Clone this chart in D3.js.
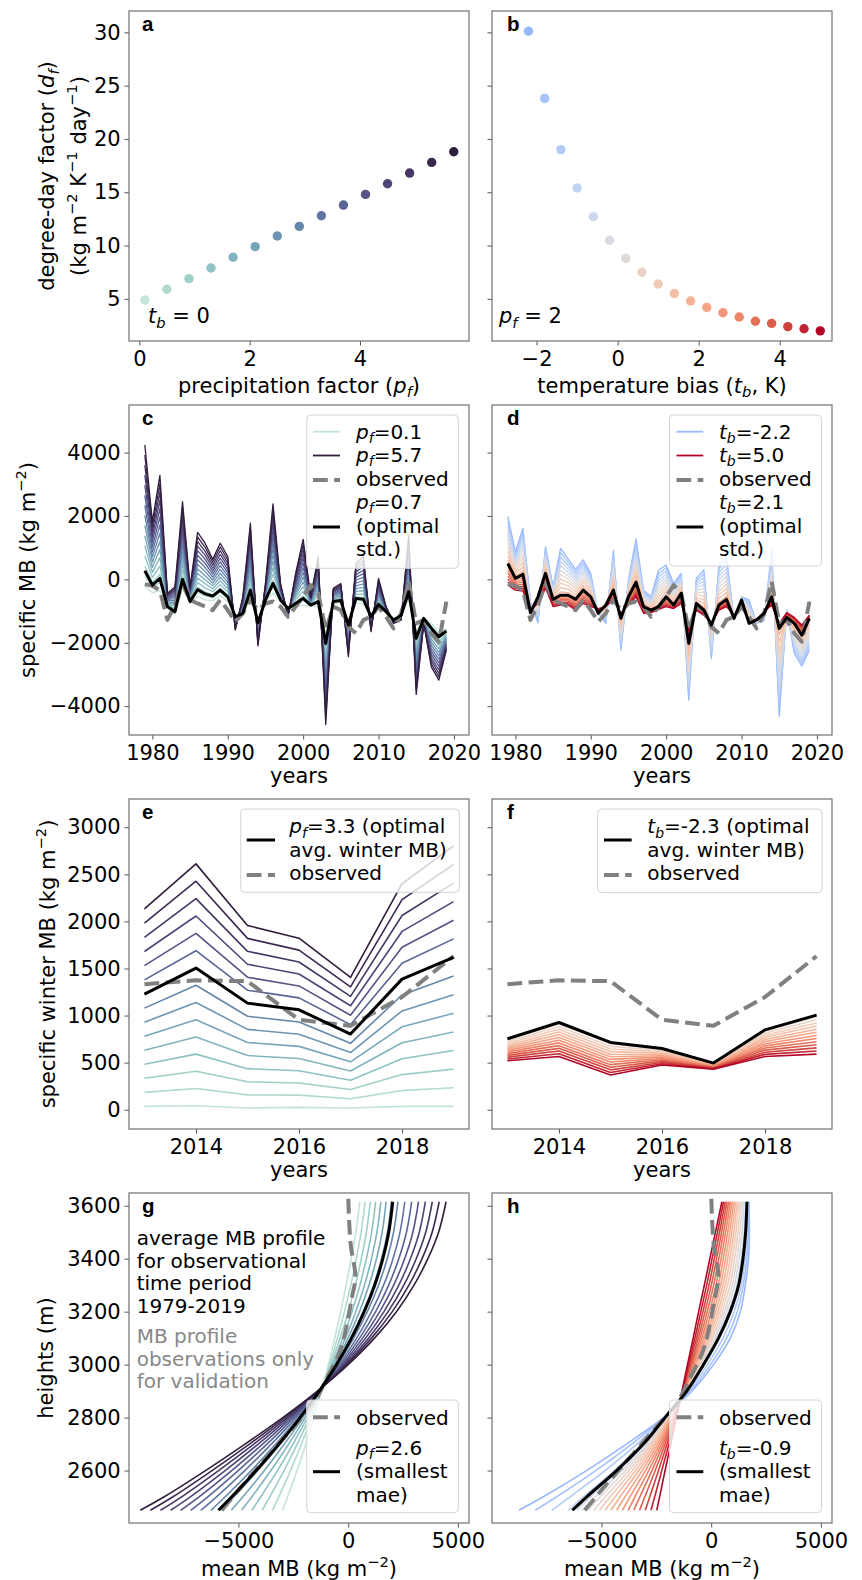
<!DOCTYPE html>
<html>
<head>
<meta charset="utf-8">
<script src="https://cdnjs.cloudflare.com/ajax/libs/d3/7.8.5/d3.min.js"></script>
<style>
  body { margin: 0; background: #fff; }
  svg text { font-family: "DejaVu Sans", sans-serif; white-space: pre; }
</style>
</head>
<body>
<svg id="fig" width="862" height="1580"></svg>
<script>
// ---------------- parameter grids ----------------
const pfValues = [0.1, 0.5, 0.9, 1.3, 1.7, 2.1, 2.5, 2.9, 3.3, 3.7, 4.1, 4.5, 4.9, 5.3, 5.7];
const ddfByPf  = [4.9, 5.9, 6.9, 7.9, 8.9, 9.9, 10.9, 11.8, 12.8, 13.8, 14.8, 15.8, 16.8, 17.8, 18.8];
const tbValues = [-2.2, -1.8, -1.4, -1.0, -0.6, -0.2, 0.2, 0.6, 1.0, 1.4, 1.8, 2.2, 2.6, 3.0, 3.4, 3.8, 4.2, 4.6, 5.0];
const ddfByTb  = [30.1, 23.8, 19.0, 15.4, 12.7, 10.5, 8.8, 7.5, 6.4, 5.5, 4.8, 4.2, 3.7, 3.3, 2.9, 2.7, 2.4, 2.2, 2.0];

// ---------------- annual specific MB 1979-2019 (kg m-2) ----------------
const years = [1979, 1980, 1981, 1982, 1983, 1984, 1985, 1986, 1987, 1988, 1989, 1990, 1991, 1992,
  1993, 1994, 1995, 1996, 1997, 1998, 1999, 2000, 2001, 2002, 2003, 2004, 2005, 2006, 2007, 2008,
  2009, 2010, 2011, 2012, 2013, 2014, 2015, 2016, 2017, 2018, 2019];
const mbObserved = [-150, -200, -350, -1280, -800, -130, -650, -760, -860, -970, -650, -970, -1340, -1070,
  -650, -970, -760, -700, -860, -1180, -860, -550, -180, -440, -1600, -860, -970, -1500, -1700, -1280,
  -1180, -860, -1180, -1550, -1070, -70, -1390, -1280, -1700, -1970, -700];
// runs with varying precipitation factor (t_b = 0)
const mbPfLow = [-200, -420, -360, -910, -1110, -290, -760, -540, -650, -670, -520, -700, -1130, -1130,
  -590, -1280, -710, -430, -710, -890, -870, -820, -840, -870, -1710, -750, -740, -1320, -730, -790,
  -1120, -890, -1040, -1270, -1110, -610, -1650, -1210, -1390, -1650, -1560];
const mbPfOpt = [270, -180, 30, -860, -1020, 0, -700, -320, -460, -530, -340, -550, -1180, -1070,
  -340, -1370, -650, -130, -650, -920, -760, -600, -810, -700, -2020, -700, -670, -1440, -600, -630,
  -1180, -790, -1020, -1280, -1130, -390, -1860, -1230, -1540, -1810, -1630];
const mbPfHigh = [4240, 1820, 3280, -440, -230, 2450, -230, 1480, 1140, 630, 1140, 720, -1600, -550,
  1770, -2100, -130, 2380, -130, -1180, 190, 1260, -550, 720, -4580, -280, -130, -2440, 500, 720,
  -1650, 30, -860, -1390, -1280, 1400, -3630, -1390, -2760, -3180, -2230];
// runs with varying temperature bias (p_f = 2)
const mbTbCold = [1980, 870, 1610, -700, -1370, 1030, -230, 980, 640, 315, 610, 190, -1070, -1390,
  905, -2230, -20, 1270, -340, -550, 295, 450, -130, 190, -3810, 30, 295, -2500, 450, 715,
  -1280, -550, -650, -1390, -1300, 925, -4320, -970, -2340, -2740, -2230];
const mbTbOpt = [500, 30, 160, -1050, -550, 190, -630, -500, -500, -630, -340, -550, -1070, -810,
  -340, -1230, -550, -90, -860, -970, -860, -550, -810, -440, -2020, -760, -970, -1440, -810, -630,
  -1230, -650, -1390, -1280, -1070, -550, -1550, -1200, -1390, -1760, -1230];
const mbTbWarm = [-180, -340, -370, -970, -760, -280, -860, -810, -810, -970, -760, -860, -920, -860,
  -650, -1070, -810, -550, -1070, -1050, -950, -860, -920, -760, -1600, -970, -1130, -1390, -970, -860,
  -1130, -860, -1280, -1280, -1020, -810, -1390, -1050, -1200, -1440, -1130];

// ---------------- winter MB 2013-2019 (kg m-2) ----------------
const winterYears = [2013, 2014, 2015, 2016, 2017, 2018, 2019];
const winterObserved = [1333, 1374, 1365, 955, 891, 1197, 1630];
const winterPfLow  = [35, 42, 18, 25, 18, 35, 35];
const winterPfOpt  = [1228, 1504, 1132, 1061, 803, 1387, 1617];
const winterPfHigh = [2133, 2611, 1957, 1822, 1405, 2400, 2802];
const winterTbOpt  = [753, 926, 714, 650, 495, 848, 1004];
const winterTbWarm = [520, 565, 368, 474, 431, 565, 590];

// ---------------- mean MB profiles 1979-2019 ----------------
const profileHeights = [2450, 2500, 2600, 2700, 2800, 2900, 3000, 3100, 3200, 3300, 3400, 3500, 3615];
const profPfLow  = [-2985, -2760, -2330, -1930, -1560, -1220, -900, -610, -340, -90, 140, 350, 530];
const profPfOpt  = [-5910, -5315, -4190, -3150, -2190, -1315, -530, 150, 730, 1210, 1580, 1850, 2030];
const profPfHigh = [-9470, -8400, -6500, -4700, -2980, -1400, 0, 1200, 2200, 3000, 3630, 4120, 4460];
const profTbCold = [-8760, -7670, -5680, -3860, -2180, -880, 110, 870, 1330, 1555, 1700, 1740, 1720];
const profTbOpt  = [-6325, -5680, -4310, -3090, -2100, -1110, -350, 335, 870, 1250, 1450, 1570, 1630];
const profTbWarm = [-2480, -2350, -2100, -1840, -1590, -1330, -1080, -820, -570, -310, -60, 195, 490];
const obsProfileHeights = [2450, 2550, 2650, 2750, 2850, 2950, 3050, 3150, 3250, 3330, 3450, 3550, 3650, 3750];
const obsProfileMB = [-5760, -4750, -3700, -2650, -1600, -960, -380, -60, 160, 330, 120, 40, 0, -30];

// optimal parameters quoted in the legends
const pfOptStd = 0.7, tbOptStd = 2.1;
const pfOptWinter = 3.3, tbOptWinter = -2.3;
const pfOptMae = 2.6, tbOptMae = -0.9;

// ---------------- axis ticks ----------------
const ticksDdf = [5, 10, 15, 20, 25, 30];
const ticksPf = [0, 2, 4];
const ticksTb = [-2, 0, 2, 4];
const ticksYears = [1980, 1990, 2000, 2010, 2020];
const ticksMB = [-4000, -2000, 0, 2000, 4000];
const ticksWinterYears = [2014, 2016, 2018];
const ticksWinterMB = [0, 500, 1000, 1500, 2000, 2500, 3000];
const ticksProfileMB = [-5000, 0, 5000];
const ticksHeights = [2600, 2800, 3000, 3200, 3400, 3600];

// ---------------- layout & styles ----------------
const colX = [129, 492];
const rowY = [11, 405, 799, 1193];
const PW = 340, PH = 330;
const FS = 21, LFS = 20;
const GREY_OBS = '#808080';
const OBS_DASH = '14.8,6.4';

// seaborn-like cubehelix (start .5, rot -.5) for the precipitation factor
function cubehelixColor(x) {
  const start = 0.5, rot = -0.5, hue = 0.8;
  const a = hue * x * (1 - x) / 2;
  const phi = 2 * Math.PI * (start / 3 + rot * x);
  const c = Math.cos(phi), s = Math.sin(phi);
  const cl = v => Math.round(255 * Math.max(0, Math.min(1, v)));
  return d3.rgb(cl(x + a * (-0.14861 * c + 1.78277 * s)),
                cl(x + a * (-0.29227 * c - 0.90649 * s)),
                cl(x + a * (1.97294 * c))).formatHex();
}
const pfColor = pf => cubehelixColor(0.85 - (pf - 0.1) / 5.6 * 0.7);

// coolwarm for the temperature bias, normalised on [-5, 5]
const coolwarm = d3.piecewise(d3.interpolateRgb, ['#3b4cc0', '#5a78e4', '#7b9ff9', '#9ebeff', '#c0d4f5',
  '#dddcdc', '#f2cbb7', '#f7ac8e', '#ee8468', '#d65244', '#b40426']);
const tbColor = tb => coolwarm((tb + 5) / 10);

// MB varies smoothly with the parameter between the calibrated runs
function mixRuns(params, runs, p) {
  let k = 0;
  while (k < params.length - 2 && p > params[k + 1]) k++;
  const t = Math.max(0, Math.min(1, (p - params[k]) / (params[k + 1] - params[k])));
  return runs[k].map((v, i) => v + t * (runs[k + 1][i] - v));
}

const svg = d3.select('#fig');

function makePanel(col, row, xDom, yDom) {
  const g = svg.append('g').attr('transform', `translate(${colX[col]},${rowY[row]})`);
  const x = d3.scaleLinear().domain(xDom).range([0, PW]);
  const y = d3.scaleLinear().domain(yDom).range([PH, 0]);
  const cid = `clip-${col}-${row}`;
  g.append('clipPath').attr('id', cid).append('rect').attr('width', PW).attr('height', PH);
  const plot = g.append('g').attr('clip-path', `url(#${cid})`);
  return { g, plot, x, y, col };
}

function drawAxes(p, xTicks, yTicks, showY) {
  const fmt = d3.format('d');
  const xa = p.g.append('g').attr('transform', `translate(0,${PH})`)
    .call(d3.axisBottom(p.x).tickValues(xTicks).tickSize(4.5).tickPadding(5.6).tickFormat(fmt));
  const ya = p.g.append('g')
    .call(d3.axisLeft(p.y).tickValues(yTicks).tickSize(4.5).tickPadding(3.8).tickFormat(showY ? fmt : () => ''));
  [xa, ya].forEach(a => {
    a.select('.domain').remove();
    a.attr('font-size', FS).attr('font-family', '"DejaVu Sans", sans-serif');
    a.selectAll('line').attr('stroke', '#555').attr('stroke-width', 1);
    a.selectAll('text').attr('fill', '#000');
  });
}

function frame(p, letter) {
  p.g.append('rect').attr('width', PW).attr('height', PH)
    .attr('fill', 'none').attr('stroke', '#707070').attr('stroke-width', 1.2);
  p.g.append('text').attr('x', p.col ? 15 : 13).attr('y', 20)
    .style('font-family', '"Liberation Sans", Arial, sans-serif')
    .attr('font-weight', 'bold').attr('font-size', 20.5).text(letter);
}

// text with italic symbols, subscripts and superscripts
function rich(parent, x, y, segs, fs, opts = {}) {
  const t = parent.append('text').attr('x', x).attr('y', y).attr('font-size', fs);
  if (opts.anchor) t.attr('text-anchor', opts.anchor);
  if (opts.fill) t.attr('fill', opts.fill);
  if (opts.transform) t.attr('transform', opts.transform);
  let off = 0;
  segs.forEach(([s, k]) => {
    const ts = t.append('tspan').text(s);
    const sub = k === 'si', sup = k === 'sup';
    const target = sub ? 0.22 * fs : sup ? -0.42 * fs : 0;
    if (Math.abs(target - off) > 1e-6) { ts.attr('dy', target - off); off = target; }
    if (sub || sup) ts.attr('font-size', 0.7 * fs);
    if (k === 'i' || k === 'si') ts.attr('font-style', 'italic');
  });
  return t;
}

function xLabel(p, segs, dy) { rich(p.g, PW / 2, PH + dy, segs, FS, { anchor: 'middle' }); }
function yLabel(p, segs, lx) {
  rich(p.g, 0, 0, segs, FS, { anchor: 'middle', transform: `translate(${lx},${PH / 2}) rotate(-90)` });
}

function legendBox(p, bx, by, bw, bh) {
  p.g.append('rect').attr('x', bx).attr('y', by).attr('width', bw).attr('height', bh).attr('rx', 4)
    .attr('fill', '#fff').attr('fill-opacity', 0.8).attr('stroke', '#d4d4d4').attr('stroke-width', 1);
}
function legendLine(p, x1, x2, yy, color, width, dash) {
  const l = p.g.append('line').attr('x1', x1).attr('x2', x2).attr('y1', yy).attr('y2', yy)
    .attr('stroke', color).attr('stroke-width', width);
  if (dash) l.attr('stroke-dasharray', dash);
}

const seriesLine = (p, xs) => d3.line().x((d, i) => p.x(xs[i])).y(d => p.y(d));
const profileLine = (p, hs) => d3.line().x(d => p.x(d)).y((d, i) => p.y(hs[i])).curve(d3.curveCatmullRom.alpha(0.5));

function pathTo(p, data, gen, color, width, dash) {
  const path = p.plot.append('path').datum(data).attr('d', gen).attr('fill', 'none')
    .attr('stroke', color).attr('stroke-width', width).attr('stroke-linejoin', 'round');
  if (dash) path.attr('stroke-dasharray', dash);
  return path;
}

const pfSym = [['p', 'i'], ['f', 'si']];
const tbSym = [['t', 'i'], ['b', 'si']];
const fmt1 = v => v.toFixed(1);

// ================= a: degree-day factor vs precipitation factor =================
const pa = makePanel(0, 0, [-0.187, 5.976], [1.05, 32.0]);
pa.plot.selectAll('circle').data(pfValues).join('circle')
  .attr('cx', d => pa.x(d)).attr('cy', (d, i) => pa.y(ddfByPf[i])).attr('r', 4.7).attr('fill', d => pfColor(d));
drawAxes(pa, ticksPf, ticksDdf, true);
rich(pa.g, 19, 312, [...tbSym, [' = 0', '']], FS);
xLabel(pa, [['precipitation factor (', ''], ...pfSym, [')', '']], 51.5);
rich(pa.g, 0, 0, [['degree-day factor (', ''], ['d', 'i'], ['f', 'si'], [')', '']], FS,
  { anchor: 'middle', transform: `translate(-75,${PH / 2}) rotate(-90)` });
rich(pa.g, 0, 0, [['(kg m', ''], ['−2', 'sup'], [' K', ''], ['−1', 'sup'], [' day', ''], ['−1', 'sup'], [')', '']], FS,
  { anchor: 'middle', transform: `translate(-43,${PH / 2}) rotate(-90)` });
frame(pa, 'a');

// ================= b: degree-day factor vs temperature bias =================
const pb = makePanel(1, 0, [-3.10, 5.29], [1.05, 32.0]);
pb.plot.selectAll('circle').data(tbValues).join('circle')
  .attr('cx', d => pb.x(d)).attr('cy', (d, i) => pb.y(ddfByTb[i])).attr('r', 4.7).attr('fill', d => tbColor(d));
drawAxes(pb, ticksTb, ticksDdf, false);
rich(pb.g, 7, 312, [...pfSym, [' = 2', '']], FS);
xLabel(pb, [['temperature bias (', ''], ...tbSym, [', K)', '']], 51.5);
frame(pb, 'b');

// ================= c: annual MB, precipitation factor runs =================
const pc = makePanel(0, 1, [1976.9, 2022.0], [-4910, 5500]);
const lineC = seriesLine(pc, years);
pfValues.forEach(pf => pathTo(pc, mixRuns([0.1, pfOptStd, 5.7], [mbPfLow, mbPfOpt, mbPfHigh], pf), lineC, pfColor(pf), 1.3));
pathTo(pc, mbObserved, lineC, GREY_OBS, 4, OBS_DASH);
pathTo(pc, mbPfOpt, lineC, '#000', 3);
drawAxes(pc, ticksYears, ticksMB, true);
xLabel(pc, [['years', '']], 48);
yLabel(pc, [['specific MB (kg m', ''], ['−2', 'sup'], [')', '']], -94);
legendBox(pc, 177.7, 10, 151.6, 153.3);
legendLine(pc, 184, 211, 26.7, pfColor(pfValues[0]), 1.8);
rich(pc.g, 227, 33.5, [...pfSym, ['=' + fmt1(pfValues[0]), '']], LFS);
legendLine(pc, 184, 211, 50.5, pfColor(pfValues[14]), 1.8);
rich(pc.g, 227, 57, [...pfSym, ['=' + fmt1(pfValues[14]), '']], LFS);
legendLine(pc, 184, 211, 75, GREY_OBS, 4, OBS_DASH);
rich(pc.g, 227, 81, [['observed', '']], LFS);
legendLine(pc, 184, 211, 122, '#000', 3);
rich(pc.g, 227, 104, [...pfSym, ['=' + fmt1(pfOptStd), '']], LFS);
rich(pc.g, 227, 127.7, [['(optimal', '']], LFS);
rich(pc.g, 227, 151, [['std.)', '']], LFS);
frame(pc, 'c');

// ================= d: annual MB, temperature bias runs =================
const pd = makePanel(1, 1, [1976.9, 2022.0], [-4910, 5500]);
const lineD = seriesLine(pd, years);
tbValues.forEach(tb => pathTo(pd, mixRuns([-2.2, tbOptStd, 5.0], [mbTbCold, mbTbOpt, mbTbWarm], tb), lineD, tbColor(tb), 1.3));
pathTo(pd, mbObserved, lineD, GREY_OBS, 4, OBS_DASH);
pathTo(pd, mbTbOpt, lineD, '#000', 3);
drawAxes(pd, ticksYears, ticksMB, false);
xLabel(pd, [['years', '']], 48);
legendBox(pd, 177.5, 10, 152, 151);
legendLine(pd, 184.5, 211.3, 26.7, tbColor(tbValues[0]), 1.8);
rich(pd.g, 227, 33.5, [...tbSym, ['=' + fmt1(tbValues[0]), '']], LFS);
legendLine(pd, 184.5, 211.3, 50.5, tbColor(tbValues[18]), 1.8);
rich(pd.g, 227, 57, [...tbSym, ['=' + fmt1(tbValues[18]), '']], LFS);
legendLine(pd, 184.5, 211.3, 75, GREY_OBS, 4, OBS_DASH);
rich(pd.g, 227, 81, [['observed', '']], LFS);
legendLine(pd, 184.5, 211.3, 122, '#000', 3);
rich(pd.g, 227, 104, [...tbSym, ['=' + fmt1(tbOptStd), '']], LFS);
rich(pd.g, 227, 127.7, [['(optimal', '']], LFS);
rich(pd.g, 227, 151, [['std.)', '']], LFS);
frame(pd, 'd');

// ================= e: winter MB, precipitation factor runs =================
const pe = makePanel(0, 2, [2012.7, 2019.3], [-205, 3300]);
const lineE = seriesLine(pe, winterYears);
pfValues.forEach(pf => pathTo(pe, mixRuns([0.1, pfOptWinter, 5.7], [winterPfLow, winterPfOpt, winterPfHigh], pf), lineE, pfColor(pf), 1.6));
pathTo(pe, winterObserved, lineE, GREY_OBS, 4, OBS_DASH);
pathTo(pe, winterPfOpt, lineE, '#000', 3);
drawAxes(pe, ticksWinterYears, ticksWinterMB, true);
xLabel(pe, [['years', '']], 48);
yLabel(pe, [['specific winter MB (kg m', ''], ['−2', 'sup'], [')', '']], -74);
legendBox(pe, 111.7, 10, 218.6, 83.3);
legendLine(pe, 117.7, 146, 41, '#000', 3);
rich(pe.g, 160.3, 34.3, [...pfSym, ['=' + fmt1(pfOptWinter) + ' (optimal', '']], LFS);
rich(pe.g, 160.3, 57.7, [['avg. winter MB)', '']], LFS);
legendLine(pe, 117.7, 146, 76, GREY_OBS, 4, OBS_DASH);
rich(pe.g, 160.3, 81, [['observed', '']], LFS);
frame(pe, 'e');

// ================= f: winter MB, temperature bias runs =================
const pf_ = makePanel(1, 2, [2012.7, 2019.3], [-205, 3300]);
const lineF = seriesLine(pf_, winterYears);
// below a zero bias the winter runs sit on the optimal run
tbValues.forEach(tb => pathTo(pf_, mixRuns([tbOptWinter, 0, 5.0], [winterTbOpt, winterTbOpt, winterTbWarm], tb), lineF, tbColor(tb), 1.6));
pathTo(pf_, winterObserved, lineF, GREY_OBS, 4, OBS_DASH);
pathTo(pf_, winterTbOpt, lineF, '#000', 3);
drawAxes(pf_, ticksWinterYears, ticksWinterMB, false);
xLabel(pf_, [['years', '']], 48);
legendBox(pf_, 105.7, 10, 224.3, 83.7);
legendLine(pf_, 112, 139.7, 41, '#000', 3);
rich(pf_.g, 155.3, 34.3, [...tbSym, ['=' + fmt1(tbOptWinter) + ' (optimal', '']], LFS);
rich(pf_.g, 155.3, 57.7, [['avg. winter MB)', '']], LFS);
legendLine(pf_, 112, 139.7, 76, GREY_OBS, 4, OBS_DASH);
rich(pf_.g, 155.3, 81, [['observed', '']], LFS);
frame(pf_, 'f');

// ================= g: MB profiles, precipitation factor runs =================
const pg = makePanel(0, 3, [-9985, 5505], [2402, 3648]);
const profG = profileLine(pg, profileHeights);
pfValues.forEach(pf => pathTo(pg, mixRuns([0.1, pfOptMae, 5.7], [profPfLow, profPfOpt, profPfHigh], pf), profG, pfColor(pf), 1.6));
pathTo(pg, obsProfileMB, profileLine(pg, obsProfileHeights), GREY_OBS, 4, OBS_DASH);
pathTo(pg, profPfOpt, profG, '#000', 3);
drawAxes(pg, ticksProfileMB, ticksHeights, true);
xLabel(pg, [['mean MB (kg m', ''], ['−2', 'sup'], [')', '']], 53);
yLabel(pg, [['heights (m)', '']], -75.7);
['average MB profile', 'for observational', 'time period', '1979-2019'].forEach((s, i) =>
  rich(pg.g, 7.7, 52 + i * 22.6, [[s, '']], LFS));
['MB profile', 'observations only', 'for validation'].forEach((s, i) =>
  rich(pg.g, 7.7, 150.3 + i * 22.5, [[s, '']], LFS, { fill: '#888' }));
legendBox(pg, 177.7, 207, 151.6, 112.7);
legendLine(pg, 184, 211, 224.3, GREY_OBS, 4, OBS_DASH);
rich(pg.g, 227, 232, [['observed', '']], LFS);
legendLine(pg, 184, 211, 278.7, '#000', 3);
rich(pg.g, 227, 262, [...pfSym, ['=' + fmt1(pfOptMae), '']], LFS);
rich(pg.g, 227, 285.3, [['(smallest', '']], LFS);
rich(pg.g, 227, 308.7, [['mae)', '']], LFS);
frame(pg, 'g');

// ================= h: MB profiles, temperature bias runs =================
const ph = makePanel(1, 3, [-9985, 5505], [2402, 3648]);
const profH = profileLine(ph, profileHeights);
tbValues.forEach(tb => pathTo(ph, mixRuns([-2.2, tbOptMae, 5.0], [profTbCold, profTbOpt, profTbWarm], tb), profH, tbColor(tb), 1.6));
pathTo(ph, obsProfileMB, profileLine(ph, obsProfileHeights), GREY_OBS, 4, OBS_DASH);
pathTo(ph, profTbOpt, profH, '#000', 3);
drawAxes(ph, ticksProfileMB, ticksHeights, false);
xLabel(ph, [['mean MB (kg m', ''], ['−2', 'sup'], [')', '']], 53);
legendBox(ph, 177.5, 207, 152, 112.7);
legendLine(ph, 184.5, 211.3, 224.3, GREY_OBS, 4, OBS_DASH);
rich(ph.g, 227, 232, [['observed', '']], LFS);
legendLine(ph, 184.5, 211.3, 278.7, '#000', 3);
rich(ph.g, 227, 262, [...tbSym, ['=' + fmt1(tbOptMae), '']], LFS);
rich(ph.g, 227, 285.3, [['(smallest', '']], LFS);
rich(ph.g, 227, 308.7, [['mae)', '']], LFS);
frame(ph, 'h');
</script>
</body>
</html>
